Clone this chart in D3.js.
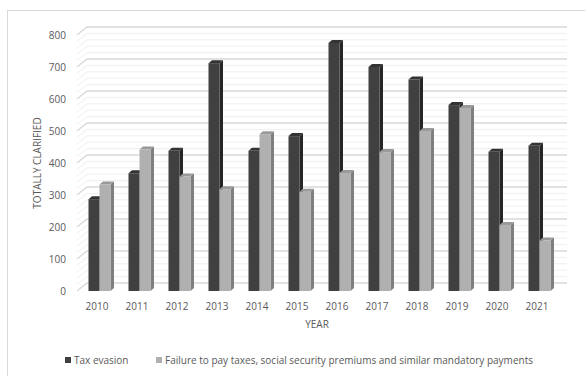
<!DOCTYPE html>
<html>
<head>
<meta charset="utf-8">
<script src="https://cdn.jsdelivr.net/npm/d3@7"></script>
<style>
  html, body { margin: 0; padding: 0; background: #fff; }
  svg { display: block; }
  text { font-family: "Open Sans", "Liberation Sans", sans-serif; fill: #595959; }
</style>
</head>
<body>
<svg id="chart" width="585" height="376"></svg>
<script>
const years = ["2010","2011","2012","2013","2014","2015","2016","2017","2018","2019","2020","2021"];
const taxEvasion = [287, 368, 438, 712, 438, 484, 775, 700, 661, 581, 435, 454];
const failureToPay = [333, 442, 358, 318, 490, 310, 369, 434, 500, 572, 206, 158];
const seriesNames = ["Tax evasion", "Failure to pay taxes, social security premiums and similar mandatory payments"];
const yTicks = [0, 100, 200, 300, 400, 500, 600, 700, 800];

const svg = d3.select("#chart");

// chart area border
svg.append("rect").attr("x", 7.5).attr("y", 10.5).attr("width", 600).attr("height", 380)
  .attr("fill", "none").attr("stroke", "#d9d9d9").attr("stroke-width", 1);

const left = 77, right = 557, depthX = 10, depthY = -8;
const x = d3.scaleBand().domain(years).range([left, right]);
const y = d3.scaleLinear().domain([0, 800]).range([291, 35]);

// gridlines (minor every 20, major every 100) on side wall + back wall
const gridVals = d3.range(0, 801, 20);
const gg = svg.append("g");
gridVals.forEach(v => {
  const major = v % 100 === 0;
  gg.append("path")
    .attr("d", `M${left},${y(v)}L${left + depthX},${y(v) + depthY}L${right + depthX},${y(v) + depthY}`)
    .attr("fill", "none")
    .attr("stroke", major ? "#d9d9d9" : "#efefef")
    .attr("stroke-width", major ? 1.3 : 1);
});

// bars
const bw = 11, dx = 3.5, dy = -3;
const series = [
  { vals: taxEvasion, front: "#404040", side: "#262626", top: "#333333", off: -10 },
  { vals: failureToPay, front: "#b0b0b0", side: "#7f7f7f", top: "#9a9a9a", off: 1 }
];
const bg = svg.append("g");
years.forEach((yr, i) => {
  const cx = x(yr) + x.bandwidth() / 2 + 1.5;
  series.forEach(s => {
    const x0 = cx + s.off, x1 = x0 + bw;
    const yt = y(s.vals[i]), yb = y(0);
    bg.append("path").attr("d", `M${x1},${yb}L${x1 + dx},${yb + dy}L${x1 + dx},${yt + dy}L${x1},${yt}Z`).attr("fill", s.side);
    bg.append("path").attr("d", `M${x0},${yt}L${x0 + dx},${yt + dy}L${x1 + dx},${yt + dy}L${x1},${yt}Z`).attr("fill", s.top);
    bg.append("rect").attr("x", x0).attr("y", yt).attr("width", bw).attr("height", yb - yt).attr("fill", s.front);
  });
});

// axes
const yAxis = svg.append("g").attr("transform", `translate(${left},0)`)
  .call(d3.axisLeft(y).tickValues(yTicks).tickSize(0).tickPadding(11));
yAxis.select(".domain").remove();
yAxis.selectAll("text").style("font-size", "10px").style("fill", "#595959").attr("font-family", null);

const xAxis = svg.append("g").attr("transform", `translate(0,${y(0)})`)
  .call(d3.axisBottom(x).tickSize(0).tickPadding(12));
xAxis.select(".domain").remove();
xAxis.selectAll("text").style("font-size", "10px").style("fill", "#595959").attr("font-family", null);

// axis titles
svg.append("text").attr("x", (left + right) / 2).attr("y", 328).attr("text-anchor", "middle")
  .style("font-size", "10px").text("YEAR");
svg.append("text").attr("transform", `translate(41,163) rotate(-90)`).attr("text-anchor", "middle")
  .style("font-size", "10px").text("TOTALLY CLARIFIED");

// legend
const legend = [
  { name: seriesNames[0], color: "#404040", x: 65 },
  { name: seriesNames[1], color: "#b0b0b0", x: 156 }
];
legend.forEach(l => {
  svg.append("rect").attr("x", l.x).attr("y", 357).attr("width", 6).attr("height", 6).attr("fill", l.color);
  svg.append("text").attr("x", l.x + 9).attr("y", 363.5).style("font-size", "10px").text(l.name);
});
</script>
</body>
</html>
